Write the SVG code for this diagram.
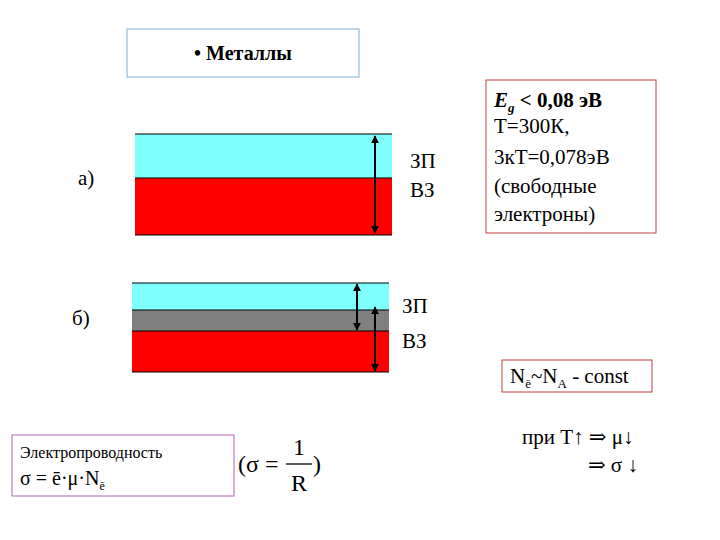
<svg xmlns="http://www.w3.org/2000/svg" width="720" height="540" viewBox="0 0 720 540" font-family="'Liberation Serif','Times New Roman','DejaVu Serif',serif">
<style>
text,tspan{font-family:'Liberation Serif','Times New Roman','DejaVu Serif',serif;fill:#000}
.t{font-size:21px}
.ln{stroke:#000;stroke-width:1.2}
.ar{stroke:#000;stroke-width:2;fill:none}
</style>
<defs>
<marker id="ah" viewBox="0 0 10 10" refX="9" refY="5" markerWidth="4" markerHeight="4" orient="auto-start-reverse"><path d="M0,0L10,5L0,10z" fill="#000"/></marker>
</defs>
<rect width="720" height="540" fill="#fff"/>
<g id="title"><rect x="127" y="29" width="232" height="48" fill="#fff" stroke="#7fb0d0"/><text x="243" y="60" text-anchor="middle" font-size="20" font-weight="bold">• Металлы</text></g>
<g id="bandA">
<rect x="135" y="134" width="257" height="44" fill="#80ffff"/>
<rect x="135" y="178" width="257" height="57" fill="#ff0000"/>
<line class="ln" x1="135" y1="134" x2="392" y2="134"/><line class="ln" x1="135" y1="178" x2="392" y2="178"/><line class="ln" x1="135" y1="235" x2="392" y2="235"/>
<text x="78" y="185" class="t">а)</text>
<text x="410" y="168" class="t">ЗП</text><text x="410" y="197" class="t">ВЗ</text>
</g>
<g id="bandB">
<rect x="132" y="283" width="257" height="27" fill="#80ffff"/>
<rect x="132" y="310" width="257" height="21" fill="#808080"/>
<rect x="132" y="331" width="257" height="41" fill="#ff0000"/>
<line class="ln" x1="132" y1="283" x2="389" y2="283"/><line class="ln" x1="132" y1="310" x2="389" y2="310"/><line class="ln" x1="132" y1="331" x2="389" y2="331"/><line class="ln" x1="132" y1="372" x2="389" y2="372"/>
<text x="72" y="325" class="t">б)</text>
<text x="402" y="313" class="t">ЗП</text><text x="402" y="348" class="t">ВЗ</text>
</g>
<g id="connectors">
<line class="ar" x1="375" y1="136" x2="375" y2="233" marker-start="url(#ah)" marker-end="url(#ah)"/>
<line class="ar" x1="357" y1="284" x2="357" y2="330" marker-start="url(#ah)" marker-end="url(#ah)"/>
<line class="ar" x1="375" y1="307" x2="375" y2="371" marker-start="url(#ah)" marker-end="url(#ah)"/>
</g>
<g id="egbox"><rect x="486" y="80" width="170" height="153" fill="#fff" stroke="#c04040"/>
<text x="494" y="107" font-size="21" font-weight="bold"><tspan font-style="italic">E</tspan><tspan font-size="13" dy="5" font-style="italic">g</tspan><tspan dy="-5"> &lt; 0,08 эВ</tspan></text>
<text x="494" y="133" class="t">Т=300К,</text>
<text x="494" y="164" class="t">3кТ=0,078эВ</text>
<text x="494" y="193" class="t">(свободные</text>
<text x="494" y="221" class="t">электроны)</text></g>
<g id="nbox"><rect x="502" y="360" width="150" height="32" fill="#fff" stroke="#c04040"/>
<text x="510" y="383" class="t">N<tspan font-size="13" dy="5">ē</tspan><tspan dy="-5">~N</tspan><tspan font-size="13" dy="5">A</tspan><tspan dy="-5"> - const</tspan></text></g>
<g id="rule"><text x="522" y="444" class="t">при Т↑ ⇒ μ↓</text><text x="588" y="472" class="t">⇒ σ ↓</text></g>
<g id="ebox"><rect x="12" y="435" width="222" height="61" fill="#fff" stroke="#b060b0"/>
<text x="20" y="458" font-size="16">Электропроводность</text>
<text x="20" y="485" font-size="20">σ  = ē·μ·N<tspan font-size="12" dy="5">ē</tspan></text></g>
<g id="formula"><text x="238" y="472" font-size="24">(σ =</text><line x1="286" y1="464" x2="312" y2="464" stroke="#000" stroke-width="1.3"/><text x="299" y="455" font-size="24" text-anchor="middle">1</text><text x="299" y="491" font-size="24" text-anchor="middle">R</text><text x="313" y="472" font-size="24">)</text></g>
</svg>
